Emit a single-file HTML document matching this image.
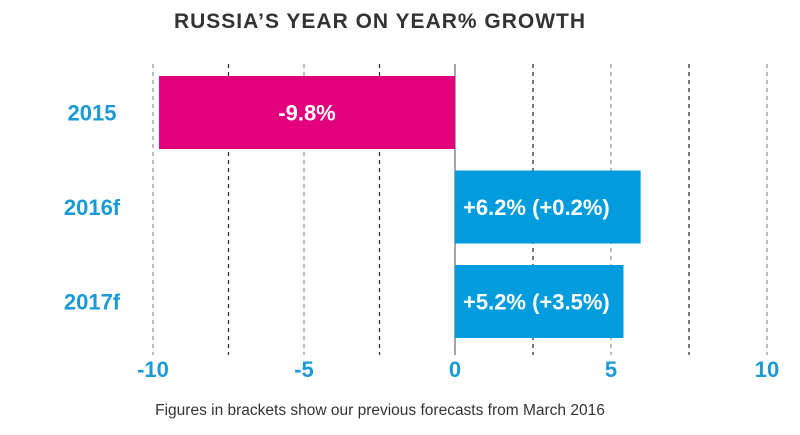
<!DOCTYPE html>
<html><head><meta charset="utf-8"><style>
body{margin:0;background:#fff;}
svg{display:block;font-family:"Liberation Sans",sans-serif;}
</style></head><body>
<svg id="chart" width="800" height="435">
<text x="380" y="28" text-anchor="middle" font-size="21" font-weight="bold" fill="#333" letter-spacing="1">RUSSIA’S YEAR ON  YEAR% GROWTH</text>
<text x="380" y="415" text-anchor="middle" font-size="15.5" fill="#333">Figures in brackets show our previous forecasts from March 2016</text>
<g id="grid"></g><g id="bars"></g><g id="labels"></g>
</svg>
<script>
const categories=["2015","2016f","2017f"];
const values=[-9.8,5.95,5.4];
const valueLabels=["-9.8%","+6.2% (+0.2%)","+5.2% (+3.5%)"];
const gridValues=[-10,-7.5,-5,-2.5,2.5,5,7.5,10];
const tickValues=[-10,-5,0,5,10];
const tickLabels=["-10","-5","0","5","10"];
const NS="http://www.w3.org/2000/svg";
function x(v){return v<0?455+v*30.2:455+v*31.2;}
function yTop(i){return 76+i*94.5;}
const BH=73;
function mk(tag,attrs,parent,text){const e=document.createElementNS(NS,tag);for(const k in attrs)e.setAttribute(k,attrs[k]);if(text!==undefined)e.textContent=text;document.getElementById(parent).appendChild(e);return e;}
gridValues.forEach(v=>{
 const l=mk('line',{x1:x(v),x2:x(v),y1:64,y2:355,stroke:(v%5===0)?'#999':'#333','stroke-width':1.3,'stroke-dasharray':'4,4'},'grid');
 
 
});
const z=mk('line',{x1:x(0),x2:x(0),y1:64,y2:355,stroke:'#888','stroke-width':1.5},'grid');


values.forEach((v,i)=>{
 const x0=Math.min(x(0),x(v)),w=Math.abs(x(v)-x(0));
 const r=mk('rect',{x:x0,y:yTop(i),width:w,height:BH,fill:v<0?'#e3007d':'#019cdd'},'bars');
 
 
 const t=mk('text',{x:v<0?x0+w/2:x0+8,y:yTop(i)+BH/2+8,'text-anchor':v<0?'middle':'start','font-size':22,'font-weight':'bold',fill:'#fff'},'labels',valueLabels[i]);
 
 
 const c=mk('text',{x:92,y:yTop(i)+BH/2+8,'text-anchor':'middle','font-size':22,'font-weight':'bold',fill:'#1a9ad6'},'labels',categories[i]);
 
 
});
tickValues.forEach((v,i)=>{
 const t=mk('text',{x:x(v),y:377,'text-anchor':'middle','font-size':22,'font-weight':'bold',fill:'#1a9ad6'},'labels',tickLabels[i]);
 
 
});
</script>
</body></html>
